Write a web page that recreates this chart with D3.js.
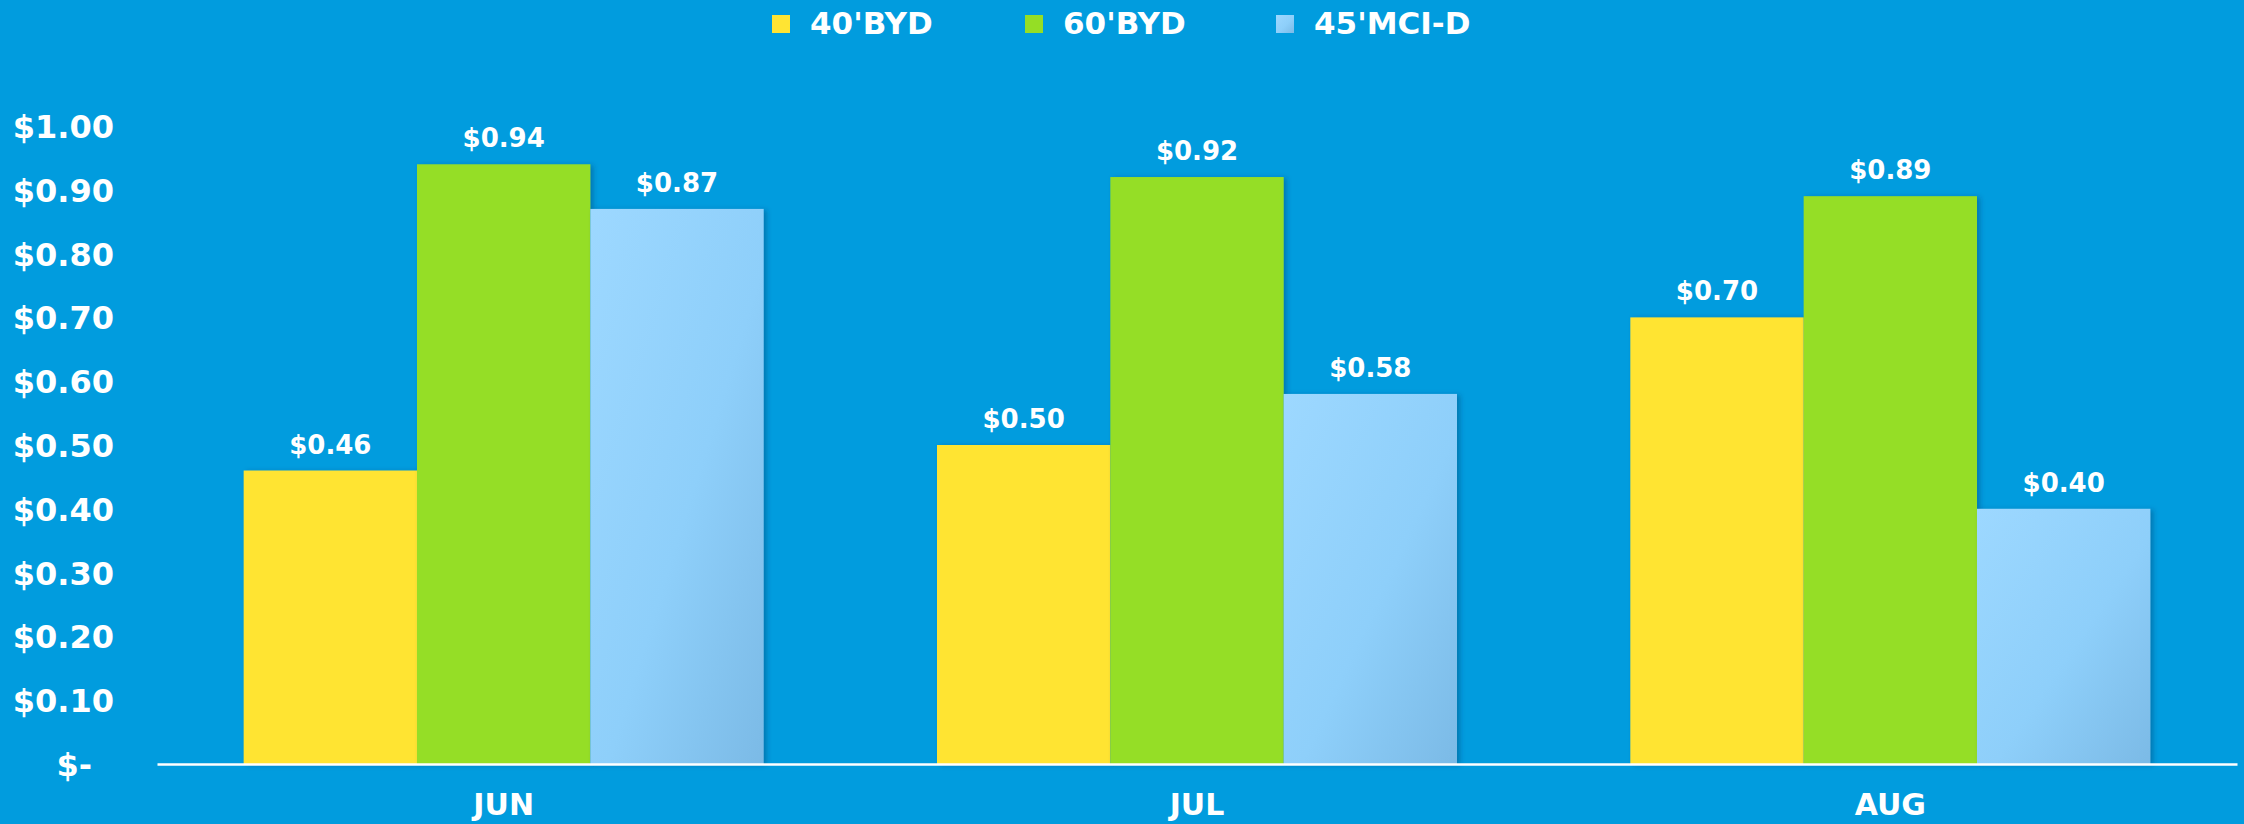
<!DOCTYPE html>
<html>
<head>
<meta charset="utf-8">
<script src="https://cdn.jsdelivr.net/npm/d3@7"></script>
<style>
  html, body { margin: 0; padding: 0; background: #019cde; }
  svg { display: block; }
</style>
</head>
<body>
<div id="chart"></div>
<script>
// chart values
var months = ["JUN", "JUL", "AUG"]
var series = ["40'BYD", "60'BYD", "45'MCI-D"]
var byd40 = [0.46, 0.50, 0.70]
var byd60 = [0.94, 0.92, 0.89]
var mci45 = [0.87, 0.58, 0.40]
var yTicks = [0, 0.1, 0.2, 0.3, 0.4, 0.5, 0.6, 0.7, 0.8, 0.9, 1.0]

var W = 2244, H = 824
var margin = { top: 126, right: 7, bottom: 60, left: 157 }
var width = W - margin.left - margin.right
var height = 764 - margin.top
var font = "'DejaVu Sans', Verdana, sans-serif"

var svg = d3.select("#chart").append("svg")
    .attr("width", W)
    .attr("height", H)

svg.append("rect").attr("width", W).attr("height", H).attr("fill", "#019cde")

var defs = svg.append("defs")
var grad = defs.append("linearGradient")
    .attr("id", "lightBlue")
    .attr("x1", 0).attr("y1", 0).attr("x2", 1).attr("y2", 1)
grad.append("stop").attr("offset", "0%").attr("stop-color", "#9dd8ff")
grad.append("stop").attr("offset", "55%").attr("stop-color", "#8ecffa")
grad.append("stop").attr("offset", "100%").attr("stop-color", "#7bbae6")

var shadow = defs.append("filter").attr("id", "shadow")
    .attr("x", "-10%").attr("y", "-10%").attr("width", "130%").attr("height", "130%")
shadow.append("feDropShadow")
    .attr("dx", 3).attr("dy", 1).attr("stdDeviation", 2.5)
    .attr("flood-color", "#00395f").attr("flood-opacity", 0.35)

var colors = ["#ffe433", "#95de25", "url(#lightBlue)"]

var data = months.map(function (m, i) {
    return { month: m, values: [byd40[i], byd60[i], mci45[i]] }
})

var x0 = d3.scaleBand()
    .domain(months)
    .range([0, width])
    .paddingInner(0.25)
    .paddingOuter(0.125)

var x1 = d3.scaleBand()
    .domain(d3.range(series.length))
    .range([0, x0.bandwidth()])

var y = d3.scaleLinear()
    .domain([0, 1])
    .range([height, 0])

var g = svg.append("g")
    .attr("transform", "translate(" + margin.left + "," + margin.top + ")")

// y axis labels
g.append("g")
    .call(d3.axisLeft(y).tickValues(yTicks).tickSize(0).tickPadding(0)
        .tickFormat(d => d === 0 ? "$-" : "$" + d3.format(".2f")(d)))
    .call(a => {
        a.select(".domain").remove()
        a.selectAll("text")
            .attr("x", d => d === 0 ? -65 : -43)
            .attr("dy", "0.36em")
            .attr("fill", "white")
            .attr("font-size", 32)
            .attr("font-weight", 700)
            .style("font-family", font)
    })

var groups = g.selectAll(".grp")
    .data(data).enter().append("g")
    .attr("class", "grp")
    .attr("transform", d => "translate(" + x0(d.month) + ",0)")

groups.selectAll("rect")
    .data(d => d.values.map((v, i) => ({ v: v, i: i })))
    .enter().append("rect")
    .attr("x", d => x1(d.i))
    .attr("y", d => y(d.v))
    .attr("width", x1.bandwidth())
    .attr("height", d => height - y(d.v))
    .attr("fill", d => colors[d.i])
    .attr("filter", "url(#shadow)")

groups.selectAll(".lbl")
    .data(d => d.values.map((v, i) => ({ v: v, i: i })))
    .enter().append("text")
    .attr("class", "lbl")
    .attr("x", d => x1(d.i) + x1.bandwidth() / 2)
    .attr("y", d => y(d.v) - 17)
    .attr("text-anchor", "middle")
    .attr("fill", "white")
    .attr("font-size", 26)
    .attr("font-weight", 700)
    .style("font-family", font)
    .text(d => "$" + d3.format(".2f")(d.v))

// x axis
g.append("g")
    .attr("transform", "translate(0," + height + ")")
    .call(d3.axisBottom(x0).tickSize(0).tickPadding(0))
    .call(a => {
        a.select(".domain").attr("stroke", "white").attr("stroke-width", 2.6)
        a.selectAll("text")
            .attr("y", 51)
            .attr("dy", 0)
            .attr("fill", "white")
            .attr("font-size", 30)
            .attr("font-weight", 700)
            .style("font-family", font)
    })

// legend
var legendX = [772, 1025, 1276]
var legend = svg.append("g")
series.forEach(function (s, i) {
    var lg = legend.append("g").attr("transform", "translate(" + legendX[i] + ",0)")
    lg.append("rect")
        .attr("x", 0).attr("y", 15)
        .attr("width", 18).attr("height", 18)
        .attr("fill", colors[i])
    lg.append("text")
        .attr("x", 38).attr("y", 34)
        .attr("fill", "white")
        .attr("font-size", 31)
        .attr("font-weight", 700)
        .style("font-family", font)
        .text(s)
})
</script>
</body>
</html>
